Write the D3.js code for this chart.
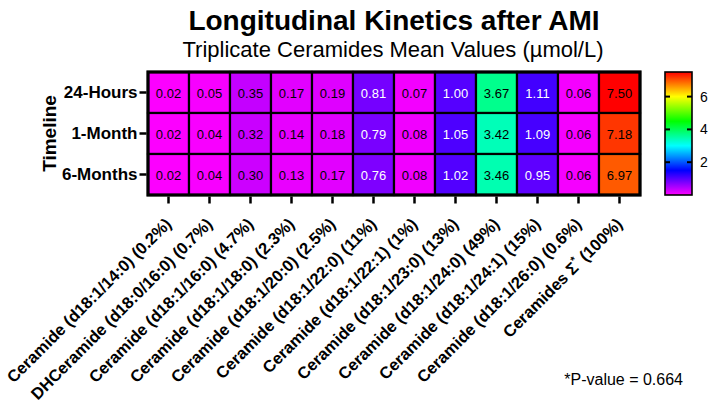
<!DOCTYPE html>
<html>
<head>
<meta charset="utf-8">
<script src="https://cdn.jsdelivr.net/npm/d3@7"></script>
<style>
  body { margin: 0; background: #fff; }
  text { font-family: "Liberation Sans", Arial, sans-serif; }
</style>
</head>
<body>
<div id="chart"></div>
<script>
var timepoints = ["24-Hours", "1-Month", "6-Months"];
var species = [
  "Ceramide (d18:1/14:0) (0.2%)",
  "DHCeramide (d18:0/16:0) (0.7%)",
  "Ceramide (d18:1/16:0) (4.7%)",
  "Ceramide (d18:1/18:0) (2.3%)",
  "Ceramide (d18:1/20:0) (2.5%)",
  "Ceramide (d18:1/22:0) (11%)",
  "Ceramide (d18:1/22:1) (1%)",
  "Ceramide (d18:1/23:0) (13%)",
  "Ceramide (d18:1/24:0) (49%)",
  "Ceramide (d18:1/24:1) (15%)",
  "Ceramide (d18:1/26:0) (0.6%)",
  "Ceramides \u03A3"
];
var values24h = [0.02, 0.05, 0.35, 0.17, 0.19, 0.81, 0.07, 1.00, 3.67, 1.11, 0.06, 7.50];
var values1m  = [0.02, 0.04, 0.32, 0.14, 0.18, 0.79, 0.08, 1.05, 3.42, 1.09, 0.06, 7.18];
var values6m  = [0.02, 0.04, 0.30, 0.13, 0.17, 0.76, 0.08, 1.02, 3.46, 0.95, 0.06, 6.97];
var legendTicks = [2, 4, 6];
var colorMax = 7.5;

var W = 708, H = 408;
var mLeft = 148, mRight = 640, mTop = 72, mBottom = 195;

var svg = d3.select("#chart")
  .append("svg")
  .attr("width", W)
  .attr("height", H);

var rows = [values24h, values1m, values6m];
var cells = [];
rows.forEach(function(r, i) {
  r.forEach(function(v, j) {
    cells.push({row: timepoints[i], col: species[j], value: v});
  });
});

var x = d3.scaleBand().domain(species).range([mLeft, mRight]);
var y = d3.scaleBand().domain(timepoints).range([mTop, mBottom]);

// rainbow: magenta at 0 -> red at max
function color(v) {
  var h = 300 * (1 - Math.min(v, colorMax) / colorMax);
  return d3.hsl(h, 1, 0.5).rgb();
}
function lum(c) {
  function f(u) { u = u / 255; return u <= 0.03928 ? u / 12.92 : Math.pow((u + 0.055) / 1.055, 2.4); }
  return 0.2126 * f(c.r) + 0.7152 * f(c.g) + 0.0722 * f(c.b);
}

// titles
svg.append("text")
  .attr("x", 394).attr("y", 30)
  .attr("text-anchor", "middle")
  .attr("font-size", 28).attr("font-weight", "bold")
  .text("Longitudinal Kinetics after AMI");

svg.append("text")
  .attr("x", 393).attr("y", 57)
  .attr("text-anchor", "middle")
  .attr("font-size", 22)
  .text("Triplicate Ceramides Mean Values (\u00B5mol/L)");

// cells
var cell = svg.append("g").selectAll("g")
  .data(cells)
  .enter().append("g");

cell.append("rect")
  .attr("x", function(d) { return x(d.col); })
  .attr("y", function(d) { return y(d.row); })
  .attr("width", x.bandwidth())
  .attr("height", y.bandwidth())
  .attr("fill", function(d) { return color(d.value); })
  .attr("stroke", "#000")
  .attr("stroke-width", 2.2);

cell.append("text")
  .attr("x", function(d) { return x(d.col) + x.bandwidth() / 2; })
  .attr("y", function(d) { return y(d.row) + y.bandwidth() / 2 + 5; })
  .attr("text-anchor", "middle")
  .attr("font-size", 13)
  .attr("fill", function(d) { return lum(color(d.value)) < 0.15 ? "#fff" : "#000"; })
  .text(function(d) { return d.value.toFixed(2); });

svg.append("rect")
  .attr("x", mLeft).attr("y", mTop)
  .attr("width", mRight - mLeft).attr("height", mBottom - mTop)
  .attr("fill", "none").attr("stroke", "#000").attr("stroke-width", 3.2);

// left axis
var yAxis = svg.append("g")
  .attr("transform", "translate(" + (mLeft - 1.5) + ",0)")
  .call(d3.axisLeft(y).tickSize(7).tickPadding(2));
yAxis.select(".domain").remove();
yAxis.selectAll("line").attr("stroke-width", 2.5);
yAxis.selectAll("text")
  .attr("font-size", 17).attr("font-weight", "bold")
  .attr("font-family", "Liberation Sans, Arial, sans-serif")
  .attr("fill", "#000");

svg.append("text")
  .attr("transform", "translate(56," + ((mTop + mBottom) / 2) + ") rotate(-90)")
  .attr("text-anchor", "middle")
  .attr("font-size", 19).attr("font-weight", "bold")
  .text("Timeline");

// bottom axis
var xAxis = svg.append("g")
  .attr("transform", "translate(0," + (mBottom + 1.5) + ")")
  .call(d3.axisBottom(x).tickSize(7).tickFormat(""));
xAxis.select(".domain").remove();
xAxis.selectAll("line").attr("stroke-width", 2.5);

var lab = svg.append("g").selectAll("text")
  .data(species)
  .enter().append("text")
  .attr("transform", function(d) {
    return "translate(" + (x(d) + x.bandwidth() / 2 + 4) + "," + (mBottom + 30) + ") rotate(-45)";
  })
  .attr("text-anchor", "end")
  .attr("font-size", 16.5).attr("font-weight", "bold");
lab.append("tspan").text(function(d) { return d; });
lab.filter(function(d, i) { return i == species.length - 1; })
  .append("tspan").attr("dy", -7).attr("font-size", 11).text("*");
lab.filter(function(d, i) { return i == species.length - 1; })
  .append("tspan").attr("dy", 7).text(" (100%)");

svg.append("text")
  .attr("x", 683).attr("y", 385)
  .attr("text-anchor", "end")
  .attr("font-size", 16)
  .text("*P-value = 0.664");

// colour legend
var lx = 665, lw = 27;
var ly = d3.scaleLinear().domain([0, colorMax]).range([mBottom, mTop]);
var grad = svg.append("defs").append("linearGradient")
  .attr("id", "rainbow")
  .attr("x1", 0).attr("y1", 1).attr("x2", 0).attr("y2", 0);
d3.range(0, 31).forEach(function(k) {
  grad.append("stop")
    .attr("offset", k / 30)
    .attr("stop-color", color(colorMax * k / 30));
});
svg.append("rect")
  .attr("x", lx).attr("y", mTop)
  .attr("width", lw).attr("height", mBottom - mTop)
  .attr("fill", "url(#rainbow)")
  .attr("stroke", "#000").attr("stroke-width", 1.6);

var lt = svg.append("g").selectAll("g")
  .data(legendTicks)
  .enter().append("g");
lt.append("line")
  .attr("x1", lx).attr("x2", lx + 5)
  .attr("y1", function(d) { return ly(d); }).attr("y2", function(d) { return ly(d); })
  .attr("stroke", "#000").attr("stroke-width", 2);
lt.append("line")
  .attr("x1", lx + lw - 5).attr("x2", lx + lw)
  .attr("y1", function(d) { return ly(d); }).attr("y2", function(d) { return ly(d); })
  .attr("stroke", "#000").attr("stroke-width", 2);
lt.append("text")
  .attr("x", lx + lw + 8)
  .attr("y", function(d) { return ly(d) + 5; })
  .attr("font-size", 14)
  .text(function(d) { return d; });
</script>
</body>
</html>
